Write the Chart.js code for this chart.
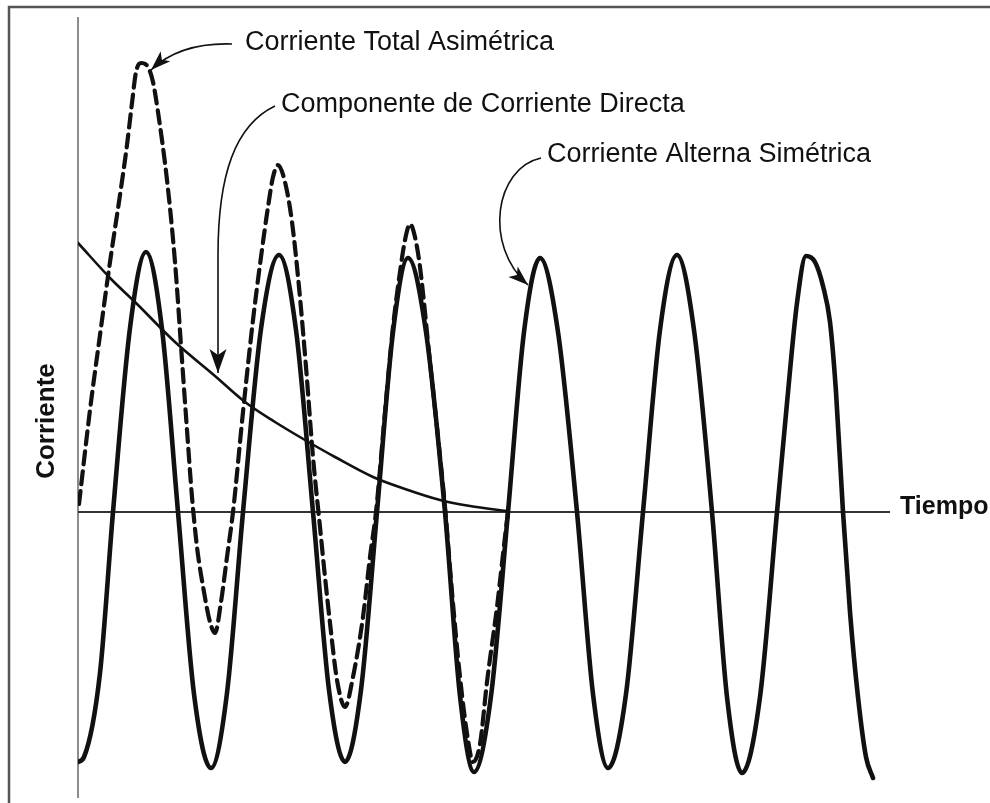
<!DOCTYPE html>
<html>
<head>
<meta charset="utf-8">
<script src="https://cdn.jsdelivr.net/npm/chart.js@4.4.1/dist/chart.umd.min.js"></script>
<style>
  html, body { margin: 0; padding: 0; background: #fff; }
  canvas { display: block; }
</style>
</head>
<body>
<canvas id="c" width="990" height="803"></canvas>
<script>
// ---- Data (time in arbitrary units, current in arbitrary units) ----
// Corriente alterna simétrica
const acT = [0, 6, 22, 35, 52, 68, 84, 100, 116, 133, 149, 165, 183, 201, 218, 235, 251, 267, 283, 299, 315, 330, 348, 367, 382, 396, 413, 430, 446, 462, 480, 499, 515, 530, 548, 565, 582, 599, 616, 634, 649, 664, 682, 699, 709, 719, 728, 737, 745, 752, 758, 765, 772, 780, 788, 795];
const acI = [-250, -245, -161, 0, 184, 260, 183, 0, -182, -256, -181, 0, 183, 257, 182, 0, -178, -250, -178, 0, 180, 254, 180, 0, -184, -260, -184, 0, 180, 254, 180, 0, -182, -256, -182, 0, 182, 257, 182, 0, -185, -261, -185, 0, 109, 209, 256, 250, 226, 190, 120, 0, -100, -185, -245, -266];

// Componente de corriente directa
const dcT = [0, 34, 57, 97, 137, 167, 197, 227, 257, 295, 327, 362, 392, 429];
const dcI = [269, 232, 210, 170, 136, 110, 90, 72, 55, 35, 23, 12, 6, 1];

// Corriente total asimétrica
const totT = [1, 12, 22, 32, 42, 49, 54, 58, 63, 70, 75, 80, 89, 97, 104, 109, 114, 119, 126, 132, 137, 143, 149, 155, 165, 175, 183, 190, 195, 200, 207, 214, 221, 228, 235, 242, 247, 252, 259, 267, 275, 285, 292, 298, 307, 315, 322, 327, 332, 337, 342, 352, 360, 367, 374, 382, 390, 395, 402, 409, 419, 427, 430];
const totI = [8, 102, 177, 250, 317, 367, 409, 440, 449, 445, 430, 400, 332, 250, 152, 82, 15, -35, -80, -110, -121, -90, -45, 0, 100, 192, 255, 305, 335, 347, 330, 290, 225, 145, 55, -15, -65, -111, -168, -195, -165, -105, -45, 0, 100, 185, 240, 272, 288, 275, 245, 150, 75, 5, -80, -165, -228, -250, -232, -170, -95, -25, 0];

// Labels
const labelTotal = "Corriente Total Asimétrica";
const labelDC = "Componente de Corriente Directa";
const labelAC = "Corriente Alterna Simétrica";
const axisX = "Tiempo";
const axisY = "Corriente";

const pts = (ts, is) => ts.map((t, k) => ({ x: t, y: is[k] }));

const decor = {
  id: 'decor',
  beforeDatasetsDraw(chart) {
    const ctx = chart.ctx;
    const xs = chart.scales.x, ys = chart.scales.y;
    ctx.save();
    // outer frame
    ctx.strokeStyle = '#555';
    ctx.lineWidth = 2.5;
    ctx.beginPath();
    ctx.moveTo(9, 803); ctx.lineTo(9, 7); ctx.lineTo(990, 7);
    ctx.stroke();
    // y axis
    const x0 = xs.getPixelForValue(0);
    ctx.strokeStyle = '#666';
    ctx.lineWidth = 1.5;
    ctx.beginPath();
    ctx.moveTo(x0, chart.chartArea.top); ctx.lineTo(x0, chart.chartArea.bottom);
    ctx.stroke();
    // x axis at zero
    const y0 = ys.getPixelForValue(0);
    ctx.strokeStyle = '#333';
    ctx.lineWidth = 2;
    ctx.beginPath();
    ctx.moveTo(x0, y0); ctx.lineTo(xs.getPixelForValue(xs.max), y0);
    ctx.stroke();
    ctx.restore();
  },
  afterDatasetsDraw(chart) {
    const ctx = chart.ctx;
    const xs = chart.scales.x, ys = chart.scales.y;
    const P = (t, i) => [xs.getPixelForValue(t), ys.getPixelForValue(i)];
    ctx.save();
    ctx.fillStyle = '#111';
    ctx.strokeStyle = '#111';

    function head(from, tip, len, wid) {
      const dx = tip[0] - from[0], dy = tip[1] - from[1];
      const L = Math.hypot(dx, dy);
      const ux = dx / L, uy = dy / L;
      const bx = tip[0] - ux * len, by = tip[1] - uy * len;
      ctx.beginPath();
      ctx.moveTo(tip[0], tip[1]);
      ctx.lineTo(bx - uy * wid / 2, by + ux * wid / 2);
      ctx.lineTo(bx + ux * len * 0.25, by + uy * len * 0.25);
      ctx.lineTo(bx + uy * wid / 2, by - ux * wid / 2);
      ctx.closePath();
      ctx.fill();
    }

    ctx.lineWidth = 1.6;
    // Arrow 1: total
    let a = P(154, 468), b = P(122, 469), c = P(94, 462), d = P(73, 442);
    ctx.beginPath(); ctx.moveTo(...a); ctx.bezierCurveTo(...b, ...c, ...d); ctx.stroke();
    head(c, d, 20, 14);
    // Arrow 2: DC
    a = P(197, 406); b = P(157, 387); c = P(140, 337); d = P(140, 257);
    const tip2 = P(140, 139);
    ctx.beginPath(); ctx.moveTo(...a); ctx.bezierCurveTo(...b, ...c, ...d); ctx.lineTo(...tip2); ctx.stroke();
    head(d, tip2, 24, 17);
    // Arrow 3: AC
    a = P(463, 354); b = P(417, 344); c = P(405, 267); d = P(450, 227);
    ctx.beginPath(); ctx.moveTo(...a); ctx.bezierCurveTo(...b, ...c, ...d); ctx.stroke();
    head(c, d, 20, 14);

    // Labels
    ctx.font = '27px "Liberation Sans", Arial, sans-serif';
    ctx.textBaseline = 'alphabetic';
    ctx.textAlign = 'left';
    ctx.fillText(labelTotal, ...P(167, 462));
    ctx.fillText(labelDC, ...P(203, 400));
    ctx.fillText(labelAC, ...P(469, 350));

    ctx.font = 'bold 25px "Liberation Sans", Arial, sans-serif';
    ctx.textBaseline = 'middle';
    ctx.fillText(axisX, ...P(822, 5));
    const yl = P(-31, 91);
    ctx.translate(yl[0], yl[1]);
    ctx.rotate(-Math.PI / 2);
    ctx.textAlign = 'center';
    ctx.font = 'bold 26px "Liberation Sans", Arial, sans-serif';
    ctx.fillText(axisY, 0, 0);
    ctx.restore();
  }
};

new Chart(document.getElementById('c'), {
  type: 'line',
  data: {
    datasets: [
      { label: labelDC, data: pts(dcT, dcI), borderColor: '#111', borderWidth: 2.6, cubicInterpolationMode: 'monotone' },
      { label: labelTotal, data: pts(totT, totI), borderColor: '#111', borderWidth: 4.2, borderDash: [13, 7], cubicInterpolationMode: 'monotone' },
      { label: labelAC, data: pts(acT, acI), borderColor: '#111', borderWidth: 4.6, cubicInterpolationMode: 'monotone' }
    ]
  },
  options: {
    responsive: false,
    animation: false,
    devicePixelRatio: 1,
    layout: { padding: { left: 78, right: 100, top: 17, bottom: 5 } },
    elements: { point: { radius: 0 }, line: { borderCapStyle: 'round', borderJoinStyle: 'round', fill: false } },
    plugins: { legend: { display: false }, tooltip: { enabled: false } },
    scales: {
      x: { type: 'linear', min: 0, max: 812, display: false },
      y: { type: 'linear', min: -286, max: 495, display: false }
    }
  },
  plugins: [decor]
});
</script>
</body>
</html>
